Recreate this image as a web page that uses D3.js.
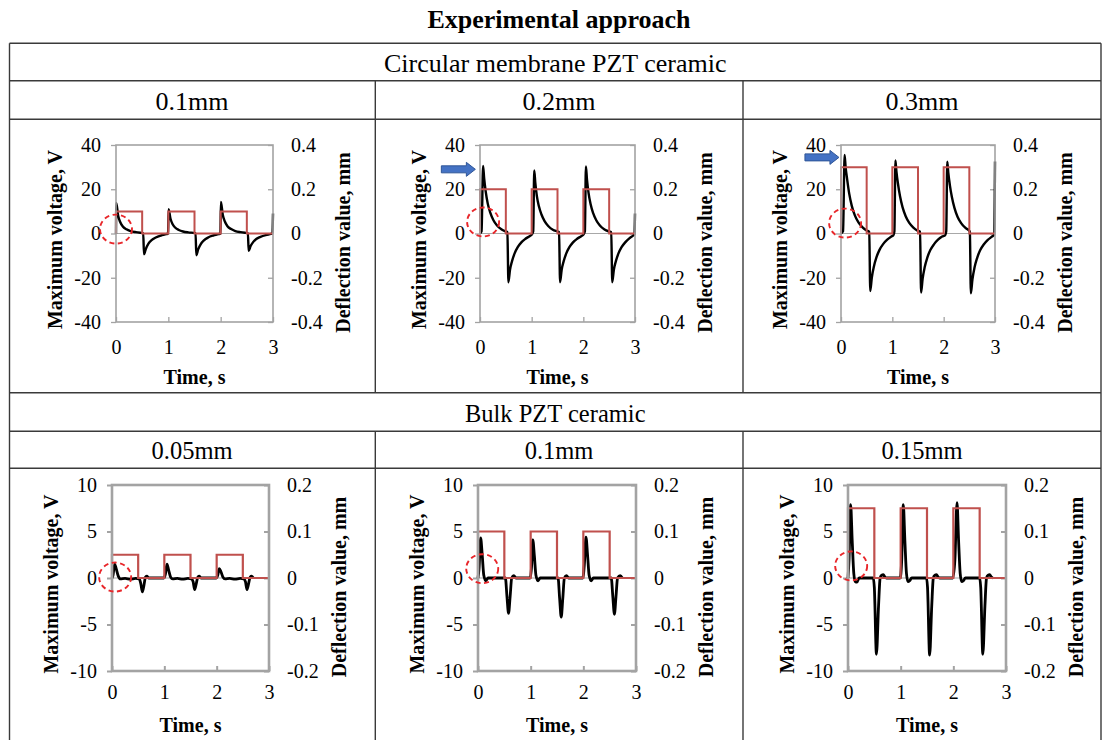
<!DOCTYPE html>
<html><head><meta charset="utf-8">
<script src="https://cdn.jsdelivr.net/npm/d3@7"></script>
<style>
html,body{margin:0;padding:0;background:#fff;}
svg{display:block;}
text{font-family:"Liberation Serif","Times New Roman",serif;fill:#000;}
</style></head>
<body>
<svg id="chart" width="1102" height="740"></svg>
<script>
// ---------------- DATA ----------------
const chartTitle = "Experimental approach";
const groupLabels = ["Circular membrane PZT ceramic", "Bulk PZT ceramic"];
const thicknessLabels = [["0.1mm", "0.2mm", "0.3mm"], ["0.05mm", "0.1mm", "0.15mm"]];
const xTitle = "Time, s";
const yLeftTitle = "Maximum voltage, V";
const yRightTitle = "Deflection value, mm";
const timeTicks = [0, 1, 2, 3];
const voltTicksTop = [-40, -20, 0, 20, 40];
const deflTicksTop = [-0.4, -0.2, 0, 0.2, 0.4];
const voltTicksBottom = [-10, -5, 0, 5, 10];
const deflTicksBottom = [-0.2, -0.1, 0, 0.1, 0.2];

// Deflection (mm) square pulses: [time s, deflection mm]
const defl_c01 = [[0,0],[0,0.1],[0.5,0.1],[0.5,0],[1,0],[1,0.1],[1.5,0.1],[1.5,0],[2,0],[2,0.1],[2.5,0.1],[2.5,0],[3,0]];
const defl_c02 = [[0,0],[0,0.2],[0.5,0.2],[0.5,0],[1,0],[1,0.2],[1.5,0.2],[1.5,0],[2,0],[2,0.2],[2.5,0.2],[2.5,0],[3,0]];
const defl_c03 = [[0,0],[0,0.3],[0.5,0.3],[0.5,0],[1,0],[1,0.3],[1.5,0.3],[1.5,0],[2,0],[2,0.3],[2.5,0.3],[2.5,0],[3,0]];
const defl_b01 = [[0,0],[0,0.05],[0.5,0.05],[0.5,0],[1,0],[1,0.05],[1.5,0.05],[1.5,0],[2,0],[2,0.05],[2.5,0.05],[2.5,0],[3,0]];
const defl_b02 = [[0,0],[0,0.1],[0.5,0.1],[0.5,0],[1,0],[1,0.1],[1.5,0.1],[1.5,0],[2,0],[2,0.1],[2.5,0.1],[2.5,0],[3,0]];
const defl_b03 = [[0,0],[0,0.15],[0.5,0.15],[0.5,0],[1,0],[1,0.15],[1.5,0.15],[1.5,0],[2,0],[2,0.15],[2.5,0.15],[2.5,0],[3,0]];

// Voltage (V): [time s, voltage V]
const volt_c01 = [
 [0.000,0],[0.005,13.8],[0.04,8.2],[0.08,5.2],[0.13,3.2],[0.20,1.9],[0.28,1.1],[0.38,0.6],[0.48,0.3],[0.52,0.2],
 [0.535,-9.4],[0.57,-7.0],[0.62,-4.6],[0.68,-3.0],[0.76,-1.8],[0.86,-0.9],[0.96,-0.3],[0.995,0],
 [1.005,11.0],[1.04,6.8],[1.08,4.3],[1.13,2.7],[1.20,1.6],[1.28,0.9],[1.38,0.5],[1.48,0.3],[1.52,0.2],
 [1.535,-9.8],[1.57,-7.2],[1.62,-4.8],[1.68,-3.1],[1.76,-1.8],[1.86,-0.9],[1.96,-0.3],[1.995,0],
 [2.005,14.3],[2.04,8.5],[2.08,5.4],[2.13,3.3],[2.20,2.0],[2.28,1.1],[2.38,0.6],[2.48,0.3],[2.52,0.2],
 [2.535,-7.8],[2.57,-5.8],[2.62,-3.9],[2.68,-2.5],[2.76,-1.5],[2.86,-0.7],[2.96,-0.2],[2.99,0],[3.0,9.0]
];
const volt_c02 = [
 [0.000,0],[0.03,1],[0.06,30.5],[0.08,25],[0.11,19],[0.15,13.5],[0.20,9.3],[0.26,6.0],[0.33,3.6],[0.42,1.8],[0.50,0.9],[0.53,0.6],
 [0.55,-22],[0.58,-16.5],[0.62,-12.5],[0.67,-9],[0.73,-6.2],[0.80,-4.0],[0.88,-2.4],[0.96,-1.2],[1.005,-0.4],
 [1.03,1],[1.05,28.5],[1.07,23],[1.10,17],[1.14,12.3],[1.19,8.6],[1.25,5.6],[1.32,3.4],[1.41,1.7],[1.50,0.9],[1.53,0.6],
 [1.55,-22],[1.58,-16.5],[1.62,-12.5],[1.67,-9],[1.73,-6.2],[1.80,-4.0],[1.88,-2.4],[1.96,-1.2],[2.005,-0.4],
 [2.03,1],[2.05,30.3],[2.07,24.5],[2.10,18.5],[2.14,13.3],[2.19,9.2],[2.25,6.0],[2.32,3.6],[2.41,1.8],[2.50,0.9],[2.54,0.6],
 [2.56,-22],[2.59,-16.5],[2.63,-12.5],[2.68,-9],[2.74,-6.2],[2.81,-4.0],[2.89,-2.2],[2.97,-0.8],[2.99,-0.3],[3.0,9.0]
];
const volt_c03 = [
 [0.000,0],[0.04,1],[0.07,35.5],[0.09,30],[0.12,24.5],[0.16,18],[0.21,12.5],[0.27,8.2],[0.34,5.0],[0.42,2.8],[0.50,1.4],[0.55,0.8],
 [0.57,-26],[0.60,-20],[0.64,-15],[0.69,-10.8],[0.75,-7.4],[0.82,-4.8],[0.90,-2.8],[0.98,-1.4],[1.02,-0.8],
 [1.04,1],[1.06,33],[1.08,28],[1.11,22.5],[1.15,16.8],[1.20,11.8],[1.26,7.8],[1.33,4.8],[1.41,2.7],[1.49,1.3],[1.54,0.8],
 [1.56,-26.7],[1.59,-20.5],[1.63,-15.3],[1.68,-11],[1.74,-7.5],[1.81,-4.9],[1.89,-2.8],[1.97,-1.4],[2.03,-0.7],
 [2.05,1],[2.07,32.5],[2.09,27.5],[2.12,22],[2.16,16.5],[2.21,11.6],[2.27,7.6],[2.34,4.7],[2.42,2.6],[2.50,1.2],[2.51,0.8],
 [2.53,-27],[2.56,-20.8],[2.60,-15.5],[2.65,-11.2],[2.71,-7.6],[2.78,-5.0],[2.86,-2.9],[2.94,-1.4],[2.985,-0.5],[3.0,32.5]
];
const volt_b01 = [
 [0.00,0],[0.02,0.3],[0.05,1.5],[0.08,1.0],[0.12,0.2],[0.16,-0.1],[0.25,-0.05],[0.35,-0.12],[0.45,-0.05],[0.52,-0.1],
 [0.55,-0.6],[0.58,-1.5],[0.61,-0.8],[0.64,0.1],[0.67,0.2],[0.70,0],[0.85,0],[0.99,0],
 [1.02,0.4],[1.05,1.5],[1.08,0.9],[1.12,0.1],[1.16,-0.1],[1.25,-0.05],[1.35,-0.12],[1.45,-0.05],[1.52,-0.1],
 [1.55,-0.4],[1.58,-1.25],[1.61,-0.6],[1.64,0.1],[1.67,0.2],[1.70,0],[1.85,0],[1.99,0],
 [2.02,0.3],[2.05,1.0],[2.08,0.7],[2.12,0.1],[2.16,-0.1],[2.25,-0.05],[2.35,-0.12],[2.45,-0.05],[2.52,-0.1],
 [2.55,-0.4],[2.58,-1.25],[2.61,-0.6],[2.64,0.1],[2.67,0.2],[2.70,0]
];
const volt_b02 = [
 [0.00,0],[0.02,1.0],[0.05,4.3],[0.08,2.5],[0.11,0.3],[0.15,-0.3],[0.19,0],[0.30,0],[0.45,0],[0.52,0],
 [0.55,-2.0],[0.58,-3.8],[0.61,-2.0],[0.64,0],[0.68,0.25],[0.72,0],[0.85,0],[0.99,0],
 [1.02,1.5],[1.04,4.1],[1.07,2.4],[1.10,0.3],[1.14,-0.3],[1.18,0],[1.30,0],[1.45,0],[1.52,0],
 [1.55,-2.2],[1.58,-4.2],[1.61,-2.2],[1.64,0],[1.68,0.25],[1.72,0],[1.85,0],[1.99,0],
 [2.02,1.5],[2.05,4.4],[2.08,2.5],[2.11,0.3],[2.15,-0.3],[2.19,0],[2.30,0],[2.45,0],[2.53,0],
 [2.56,-2.0],[2.59,-3.9],[2.62,-2.0],[2.65,0],[2.70,0.25],[2.74,0]
];
const volt_b03 = [
 [0.00,0],[0.02,2.0],[0.05,7.9],[0.08,4.0],[0.11,0.5],[0.14,-0.4],[0.17,-0.45],[0.21,0],[0.35,0],[0.48,0],
 [0.50,-1.0],[0.54,-8.2],[0.58,-3.0],[0.61,0],[0.64,0.3],[0.67,0.35],[0.70,0.1],[0.73,0],[0.85,0],[0.99,0],
 [1.02,2.0],[1.05,7.9],[1.08,4.0],[1.11,0.5],[1.14,-0.4],[1.17,-0.3],[1.21,0],[1.35,0],[1.49,0],
 [1.51,-1.0],[1.55,-8.3],[1.59,-3.0],[1.62,0],[1.65,0.3],[1.68,0.35],[1.71,0.1],[1.74,0],[1.85,0],[1.99,0],
 [2.03,2.0],[2.07,8.1],[2.10,4.0],[2.13,0.5],[2.16,-0.4],[2.19,-0.3],[2.23,0],[2.35,0],[2.50,0],
 [2.52,-1.0],[2.56,-8.2],[2.60,-3.0],[2.63,0],[2.66,0.3],[2.69,0.35],[2.72,0.1],[2.75,0]
];

// annotation marks in data units: dashed circle centers [time, voltage]
const circleCenters = [[0.00,2.0],[0.06,5.2],[0.08,4.7],[0.06,0.1],[0.08,1.0],[0.06,1.3]];
// blue arrow tips [time, voltage] (only panels 2 and 3 of the first row)
const arrowTips = [null,[-0.09,29],[-0.04,34.4],null,null,null];

// ---------------- LAYOUT ----------------
const svg = d3.select("#chart");
const FONT = '"Liberation Serif","Times New Roman",serif';

const tableLeft = 9.5, tableRight = 1101;
const hLines = [43.3, 80.7, 119.3, 392.7, 431.3, 468.3];
const colDiv = [375.3, 743];
const headerRows = [
 {y0: 43.3, y1: 80.7}, {y0: 80.7, y1: 119.3},
 {y0: 392.7, y1: 431.3}, {y0: 431.3, y1: 468.3}
];
const colCenters = [192, 559, 922];

const panels = [
 {row:0, col:0, L:116, R:273, T:145, B:322, volt:volt_c01, defl:defl_c01},
 {row:0, col:1, L:480, R:635, T:145, B:322, volt:volt_c02, defl:defl_c02},
 {row:0, col:2, L:841, R:995, T:145, B:322, volt:volt_c03, defl:defl_c03},
 {row:1, col:0, L:112, R:269, T:485, B:671, volt:volt_b01, defl:defl_b01},
 {row:1, col:1, L:478, R:636, T:485, B:671, volt:volt_b02, defl:defl_b02},
 {row:1, col:2, L:848, R:1006, T:485, B:671, volt:volt_b03, defl:defl_b03}
];

// title
svg.append("text").attr("x", 559).attr("y", 19).attr("text-anchor","middle")
 .attr("dominant-baseline","central").style("font-size","26px").style("font-weight","bold")
 .text(chartTitle);

// table lines
const lineColor = "#3a3a3a";
hLines.forEach(y => svg.append("line").attr("x1", tableLeft).attr("x2", tableRight)
 .attr("y1", y).attr("y2", y).attr("stroke", lineColor).attr("stroke-width", 1.4));
svg.append("line").attr("x1", tableLeft).attr("x2", tableLeft).attr("y1", hLines[0]).attr("y2", 740)
 .attr("stroke", lineColor).attr("stroke-width", 1.4);
svg.append("line").attr("x1", tableRight).attr("x2", tableRight).attr("y1", hLines[0]).attr("y2", 740)
 .attr("stroke", lineColor).attr("stroke-width", 1.4);
colDiv.forEach(x => {
 svg.append("line").attr("x1", x).attr("x2", x).attr("y1", hLines[1]).attr("y2", hLines[3])
  .attr("stroke", lineColor).attr("stroke-width", 1.4);
 svg.append("line").attr("x1", x).attr("x2", x).attr("y1", hLines[4]).attr("y2", 740)
  .attr("stroke", lineColor).attr("stroke-width", 1.4);
});

// header texts
[0,1].forEach(g => {
 const r1 = headerRows[g*2], r2 = headerRows[g*2+1];
 const fs = g === 0 ? 26 : 24.5;
 svg.append("text").attr("x", (tableLeft+tableRight)/2).attr("y", (r1.y0+r1.y1)/2 + 1)
  .attr("text-anchor","middle").attr("dominant-baseline","central").style("font-size", fs+"px")
  .text(groupLabels[g]);
 thicknessLabels[g].forEach((lab, c) => {
  svg.append("text").attr("x", colCenters[c]).attr("y", (r2.y0+r2.y1)/2 + 1)
   .attr("text-anchor","middle").attr("dominant-baseline","central").style("font-size", fs+"px")
   .text(lab);
 });
});

// panels
panels.forEach((p, i) => {
 const top = p.row === 0;
 const vTicks = top ? voltTicksTop : voltTicksBottom;
 const dTicks = top ? deflTicksTop : deflTicksBottom;
 const x = d3.scaleLinear().domain([0, 3]).range([p.L, p.R]);
 const yL = d3.scaleLinear().domain([vTicks[0], vTicks[vTicks.length-1]]).range([p.B, p.T]);
 const yR = d3.scaleLinear().domain([dTicks[0], dTicks[dTicks.length-1]]).range([p.B, p.T]);
 const g = svg.append("g");
 const frameColor = "#a3a3a3";
 const frameW = top ? 1.6 : 2.6;

 // zero line
 g.append("line").attr("x1", p.L).attr("x2", p.R).attr("y1", yL(0)).attr("y2", yL(0))
  .attr("stroke", "#a8a8a8").attr("stroke-width", 1.2);

 // axes
 const fmt = d => String(d);
 const axL = g.append("g").attr("transform", `translate(${p.L},0)`)
  .call(d3.axisLeft(yL).tickValues(vTicks).tickSize(5).tickPadding(10).tickFormat(fmt));
 const axR = g.append("g").attr("transform", `translate(${p.R},0)`)
  .call(d3.axisRight(yR).tickValues(dTicks).tickSize(-5).tickPadding(18).tickFormat(fmt));
 const axB = g.append("g").attr("transform", `translate(0,${p.B})`)
  .call(d3.axisBottom(x).tickValues(timeTicks).tickSize(-5).tickPadding(top ? 18 : 14).tickFormat(fmt));
 [axL, axR, axB].forEach(a => {
  a.attr("font-family", FONT).attr("font-size", 20);
  a.select(".domain").remove();
  a.selectAll(".tick line").attr("stroke", frameColor).attr("stroke-width", top ? 1.3 : 2);
  a.selectAll(".tick text").style("font-family", FONT).style("font-size", "20px").attr("fill", "#000");
 });

 // voltage line (black)
 const line = d3.line().x(d => x(d[0])).y(d => yL(d[1])).curve(d3.curveMonotoneX);
 g.append("path").datum(p.volt).attr("d", line).attr("fill","none")
  .attr("stroke","#000").attr("stroke-width", top ? 2.4 : 2.8).attr("stroke-linejoin","round");

 // deflection (red)
 const dline = d3.line().x(d => x(d[0])).y(d => yR(d[1]));
 g.append("path").datum(p.defl).attr("d", dline).attr("fill","none")
  .attr("stroke","#c0504d").attr("stroke-width", top ? 2 : 2.2);

 // frame
 g.append("rect").attr("x", p.L).attr("y", p.T).attr("width", p.R-p.L).attr("height", p.B-p.T)
  .attr("fill","none").attr("stroke", frameColor).attr("stroke-width", frameW);

 // dashed circle
 const cc = circleCenters[i];
 g.append("ellipse").attr("cx", x(cc[0])).attr("cy", yL(cc[1])).attr("rx", 16).attr("ry", 14.5)
  .attr("fill","none").attr("stroke","#e8262a").attr("stroke-width", 1.9).attr("stroke-dasharray","5,3.5");

 // blue arrow
 const at = arrowTips[i];
 if (at) {
  const tx = x(at[0]), ty = yL(at[1]);
  const len = 34, head = 9, bh = 3.5, hh = 7;
  const pts = [[tx-len, ty-bh],[tx-head, ty-bh],[tx-head, ty-hh],[tx, ty],[tx-head, ty+hh],[tx-head, ty+bh],[tx-len, ty+bh]];
  g.append("path").attr("d", "M" + pts.map(q => q.join(",")).join("L") + "Z")
   .attr("fill","#4472c4").attr("stroke","#2f5597").attr("stroke-width", 1);
 }

 // axis titles
 g.append("text").attr("x", (p.L+p.R)/2).attr("y", p.B + (top ? 55 : 54))
  .attr("text-anchor","middle").attr("dominant-baseline","central")
  .style("font-size","20px").style("font-weight","bold").text(xTitle);
 const cy = (p.T+p.B)/2 + 6;
 const lx = p.L - 61, rx = p.R + 70;
 g.append("text").attr("transform", `translate(${lx},${cy}) rotate(-90)`)
  .attr("text-anchor","middle").attr("dominant-baseline","central")
  .style("font-size","20px").style("font-weight","bold").text(yLeftTitle);
 g.append("text").attr("transform", `translate(${rx},${cy+3}) rotate(-90)`)
  .attr("text-anchor","middle").attr("dominant-baseline","central")
  .style("font-size","20px").style("font-weight","bold").text(yRightTitle);
});
</script>
</body></html>
